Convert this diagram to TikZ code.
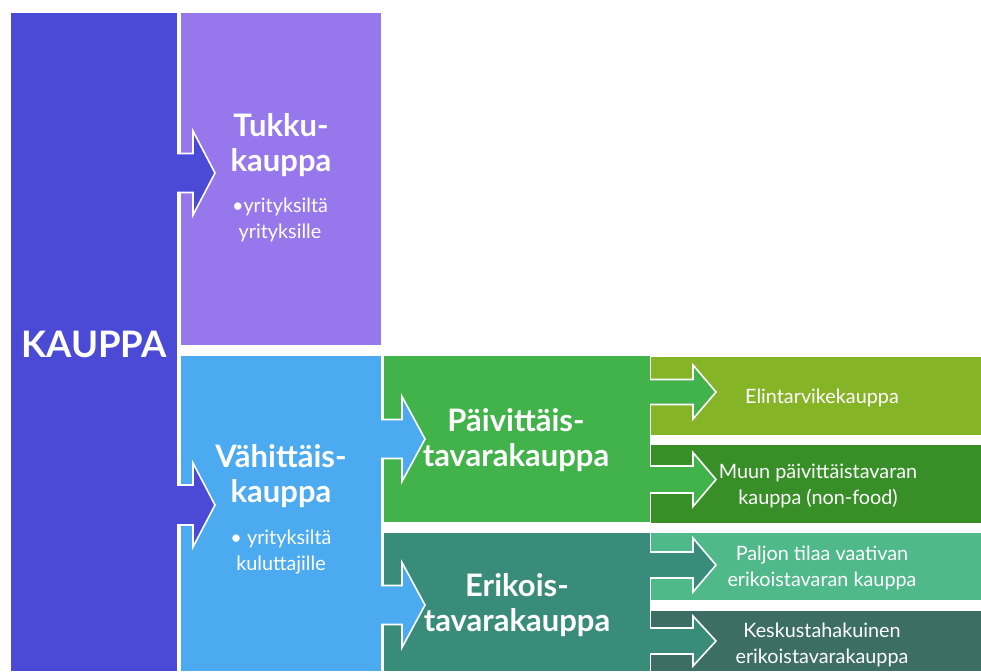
\documentclass[tikz,border=0pt]{standalone}
\usepackage{fontspec}
\setmainfont{Lato}
\definecolor{ckauppa}{HTML}{4A4AD6}
\definecolor{ctukku}{HTML}{9677EC}
\definecolor{cvahit}{HTML}{4BAAF0}
\definecolor{cpaiv}{HTML}{42B24A}
\definecolor{cerik}{HTML}{3A8C7A}
\definecolor{celin}{HTML}{86B427}
\definecolor{cmuun}{HTML}{388F28}
\definecolor{cpaljon}{HTML}{4FB98A}
\definecolor{ckesk}{HTML}{3C6E66}
\newcommand\notcharrow[7]{%
  \filldraw[fill=#1, draw=white, line width=1.6pt, line join=miter]
    (#2,#5-#6) -- (#3,#5-#6) -- (#3,#5-#7) -- (#4,#5) -- (#3,#5+#7) -- (#3,#5+#6) -- (#2,#5+#6);}
\begin{document}
\begin{tikzpicture}[x=1pt,y=-1pt,
  box/.style={draw=none, rectangle, inner sep=0pt, outer sep=0pt, anchor=north west},
  big/.style={text=white, font=\fontsize{31}{35.5}\selectfont\bfseries, align=center, inner sep=0pt},
  small/.style={text=white, font=\fontsize{19.8}{26}\selectfont, align=center, inner sep=0pt}]
\useasboundingbox (0,0) rectangle (981,671);
% boxes
\node[box, fill=ckauppa, minimum width=166pt, minimum height=658pt] (kauppa) at (11,13) {};
\node[box, fill=ctukku, minimum width=200pt, minimum height=332pt] (tukku) at (181,13) {};
\node[box, fill=cvahit, minimum width=200pt, minimum height=315pt] (vahit) at (181,356) {};
\node[box, fill=cpaiv, minimum width=266pt, minimum height=166pt] (paiv) at (384,356) {};
\node[box, fill=cerik, minimum width=266pt, minimum height=138pt] (erik) at (384,533) {};
\node[box, fill=celin, minimum width=330pt, minimum height=78pt] (elin) at (651,357) {};
\node[box, fill=cmuun, minimum width=330pt, minimum height=78pt] (muun) at (651,445) {};
\node[box, fill=cpaljon, minimum width=330pt, minimum height=67pt] (paljon) at (651,533) {};
\node[box, fill=ckesk, minimum width=330pt, minimum height=60pt] (kesk) at (651,611) {};
% arrows
\notcharrow{ckauppa}{177}{193}{215}{173}{19.5}{42}
\notcharrow{ckauppa}{177}{193}{215}{505}{20}{42}
\notcharrow{cvahit}{381}{402}{425}{439}{19.5}{42.5}
\notcharrow{cvahit}{381}{402}{425}{605}{19.5}{42.5}
\notcharrow{cpaiv}{650}{693}{716}{392}{12.5}{27}
\notcharrow{cpaiv}{650}{693}{716}{479.5}{13.5}{27}
\notcharrow{cerik}{650}{693}{716}{565}{13}{27}
\notcharrow{cerik}{650}{693}{716}{641}{13}{25}
% texts
\node[text=white, font=\fontsize{36.5}{40}\selectfont\bfseries, inner sep=0pt, anchor=base] (tkauppa) at (94,357) {KAUPPA};
\node[big] (ttukku) at (281,145) {Tukku-\\kauppa};
\node[small] (ttukkub) at (280,220) {•yrityksiltä\\yrityksille};
\node[big] (tvahit) at (281,476) {Vähittäis-\\kauppa};
\node[small] (tvahitb) at (281,552) {• yrityksiltä\\kuluttajille};
\node[big] (tpaiv) at (516,440) {Päivittäis-\\tavarakauppa};
\node[big] (terik) at (517,605) {Erikois-\\tavarakauppa};
\node[small, anchor=base] (telin) at (822,403) {Elintarvikekauppa};
\node[small] (tmuun) at (818,486) {Muun päivittäistavaran\\kauppa (non-food)};
\node[small] (tpaljon) at (822,568) {Paljon tilaa vaativan\\erikoistavaran kauppa};
\node[small] (tkesk) at (822,645) {Keskustahakuinen\\erikoistavarakauppa};
\end{tikzpicture}
\end{document}
